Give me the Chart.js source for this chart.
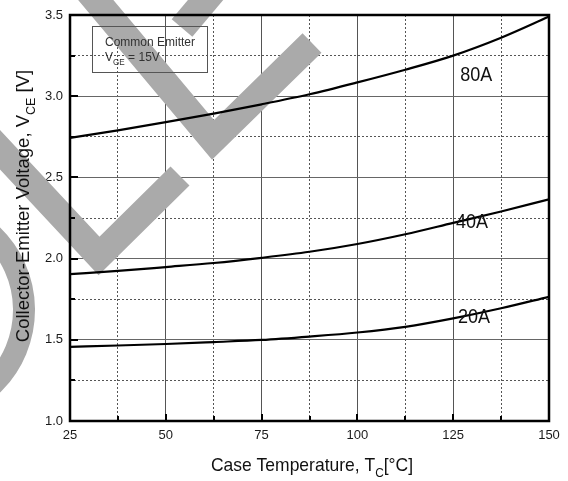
<!DOCTYPE html>
<html><head><meta charset="utf-8">
<script src="https://cdn.jsdelivr.net/npm/chart.js@4"></script>
<style>html,body{margin:0;padding:0;background:#fff}#wrap{width:568px;height:481px}</style>
</head><body><div id="wrap"><canvas id="c" width="568" height="481"></canvas></div>
<script>
const temperatures = [25, 37.5, 50, 62.5, 75, 87.5, 100, 112.5, 125, 137.5, 150];
const vce20A = [1.457, 1.465, 1.474, 1.486, 1.499, 1.52, 1.545, 1.58, 1.632, 1.694, 1.765];
const vce40A = [1.905, 1.924, 1.948, 1.973, 2.005, 2.042, 2.09, 2.15, 2.22, 2.29, 2.365];
const vce80A = [2.743, 2.79, 2.84, 2.893, 2.95, 3.012, 3.085, 3.163, 3.25, 3.36, 3.49];
const seriesNames = ['20A', '40A', '80A'];
const labelT = [130.4, 129.9, 131];
const labelV = [1.64, 2.225, 3.13];
const xTitle = ['Case Temperature, T', 'C', '[°C]'];
const yTitle = ['Collector-Emitter Voltage, V', 'CE', ' [V]'];
const boxLines = ['Common Emitter', 'V', 'GE', ' = 15V'];

const FONT = '"Liberation Sans", Arial, sans-serif';
const isMajorX = v => Math.abs(v % 25) < 1e-6;
const isMajorY = v => Math.abs(v * 2 - Math.round(v * 2)) < 1e-6;

function drawSubText(ctx, parts, size, x, y, align, scaleX) {
  ctx.font = size + 'px ' + FONT;
  const w0 = ctx.measureText(parts[0]).width;
  ctx.font = (size * 0.68) + 'px ' + FONT;
  const w1 = ctx.measureText(parts[1]).width;
  ctx.font = size + 'px ' + FONT;
  const w2 = ctx.measureText(parts[2]).width;
  const total = (w0 + w1 + w2);
  ctx.save();
  ctx.translate(x, y);
  ctx.scale(scaleX, 1);
  let sx = align === 'center' ? -total / 2 : 0;
  ctx.textAlign = 'left';
  ctx.textBaseline = 'alphabetic';
  ctx.font = size + 'px ' + FONT;
  ctx.fillText(parts[0], sx, 0);
  ctx.font = (size * 0.68) + 'px ' + FONT;
  ctx.fillText(parts[1], sx + w0, size * 0.3);
  ctx.font = size + 'px ' + FONT;
  ctx.fillText(parts[2], sx + w0 + w1, 0);
  ctx.restore();
}

const watermark = {
  id: 'watermark',
  beforeDatasetsDraw(chart) {
    const ctx = chart.ctx;
    ctx.save();
    ctx.strokeStyle = '#aaaaaa';
    ctx.lineWidth = 27;
    ctx.lineJoin = 'miter';
    ctx.lineCap = 'butt';
    const paths = [
      [[96, 0 - 0.01], [213, 140], [312, 43]],
      [[214, -10], [182, 28]],
      [[-10, 139], [99, 256], [180, 176]]
    ];
    paths[0][0] = [79, -20];
    for (const p of paths) {
      ctx.beginPath();
      p.forEach(([x, y], i) => i ? ctx.lineTo(x, y) : ctx.moveTo(x, y));
      ctx.stroke();
    }
    ctx.beginPath();
    ctx.lineWidth = 22;
    ctx.arc(-80, 310, 104, -0.8, 0.8);
    ctx.stroke();
    ctx.restore();
  }
};

const decorations = {
  id: 'decorations',
  afterDatasetsDraw(chart) {
    const ctx = chart.ctx;
    const xs = chart.scales.x, ys = chart.scales.y;
    const a = chart.chartArea;
    ctx.save();
    // legend box
    ctx.strokeStyle = '#555';
    ctx.lineWidth = 1;
    ctx.strokeRect(92.5, 26.5, 115, 46);
    ctx.fillStyle = '#333';
    ctx.font = '12px ' + FONT;
    ctx.textAlign = 'left';
    ctx.textBaseline = 'alphabetic';
    ctx.fillText(boxLines[0], 105, 46);
    drawSubText(ctx, [boxLines[1], boxLines[2], boxLines[3]], 12, 105, 61, 'left', 1);
    // curve labels
    ctx.fillStyle = '#111';
    seriesNames.forEach((n, i) => {
      const px = xs.getPixelForValue(labelT[i]);
      const py = ys.getPixelForValue(labelV[i]);
      ctx.save();
      ctx.translate(px, py);
      ctx.scale(0.9, 1);
      ctx.font = '20px ' + FONT;
      ctx.textAlign = 'center';
      ctx.textBaseline = 'middle';
      ctx.fillText(n, 0, 0);
      ctx.restore();
    });
    // inward ticks
    ctx.strokeStyle = '#000';
    ctx.lineWidth = 2;
    ys.ticks.forEach(t => {
      const py = Math.round(ys.getPixelForValue(t.value));
      const len = isMajorY(t.value) ? 8 : 5;
      ctx.beginPath(); ctx.moveTo(a.left, py); ctx.lineTo(a.left + len, py); ctx.stroke();
    });
    xs.ticks.forEach(t => {
      const px = Math.round(xs.getPixelForValue(t.value));
      const len = isMajorX(t.value) ? 7 : 5;
      ctx.beginPath(); ctx.moveTo(px, a.bottom); ctx.lineTo(px, a.bottom - len); ctx.stroke();
    });
    // frame
    ctx.lineWidth = 2.5;
    ctx.strokeStyle = '#000';
    ctx.strokeRect(a.left, a.top, a.right - a.left, a.bottom - a.top);
    ctx.restore();
  },
  afterDraw(chart) {
    const ctx = chart.ctx;
    ctx.save();
    ctx.fillStyle = '#111';
    drawSubText(ctx, xTitle, 19, 312, 471, 'center', 0.92);
    ctx.translate(29, 206);
    ctx.rotate(-Math.PI / 2);
    drawSubText(ctx, yTitle, 18.5, 0, 0, 'center', 1);
    ctx.restore();
  }
};

const mk = (name, vals) => ({
  label: name,
  data: temperatures.map((t, i) => ({ x: t, y: vals[i] })),
  borderColor: '#000',
  borderWidth: 2.2,
  pointRadius: 0,
  fill: false,
  cubicInterpolationMode: 'monotone'
});

new Chart(document.getElementById('c'), {
  type: 'line',
  data: { datasets: [mk(seriesNames[0], vce20A), mk(seriesNames[1], vce40A), mk(seriesNames[2], vce80A)] },
  options: {
    responsive: false,
    animation: false,
    devicePixelRatio: 1,
    layout: { padding: { top: 15, right: 19, left: 0, bottom: 0 } },
    plugins: { legend: { display: false }, tooltip: { enabled: false } },
    scales: {
      x: {
        type: 'linear', min: 25, max: 150,
        afterFit(s) { s.height = 60; },
        ticks: {
          stepSize: 12.5, autoSkip: false, maxRotation: 0, padding: 7,
          color: '#1a1a1a', font: { family: FONT, size: 13 },
          callback: v => isMajorX(v) ? String(v) : ''
        },
        grid: { drawTicks: false, lineWidth: 1, color: c => (c.tick && isMajorX(c.tick.value)) ? '#555' : '#555' },
        border: { display: false, dash: c => (c.tick && !isMajorX(c.tick.value)) ? [2, 2] : [] }
      },
      y: {
        type: 'linear', min: 1, max: 3.5,
        afterFit(s) { s.width = 70; },
        ticks: {
          stepSize: 0.25, autoSkip: false, padding: 7,
          color: '#1a1a1a', font: { family: FONT, size: 13 },
          callback: v => isMajorY(v) ? v.toFixed(1) : ''
        },
        grid: { drawTicks: false, lineWidth: 1, color: c => (c.tick && isMajorY(c.tick.value)) ? '#666' : '#555' },
        border: { display: false, dash: c => (c.tick && !isMajorY(c.tick.value)) ? [2, 2] : [] }
      }
    }
  },
  plugins: [watermark, decorations]
});
</script>
</body></html>
